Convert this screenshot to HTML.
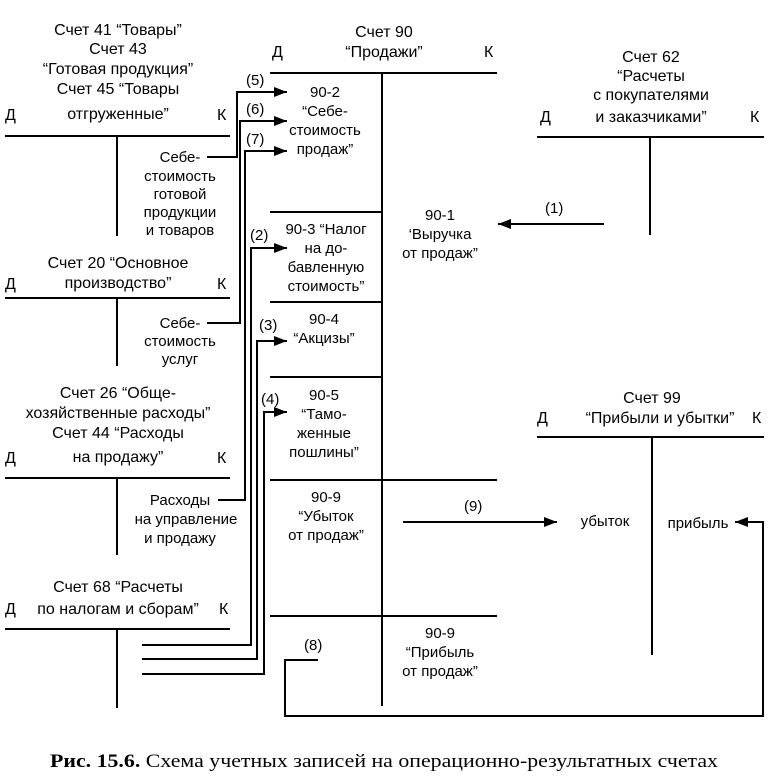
<!DOCTYPE html>
<html><head><meta charset="utf-8"><style>
html,body{margin:0;padding:0;background:#fff;}
svg{display:block;}
text{font-family:"Liberation Sans",sans-serif;font-size:16px;fill:#000;}
.s{font-size:15px;}
.c{font-family:"Liberation Serif",serif;font-size:19px;}
</style></head><body>
<svg width="777" height="778" viewBox="0 0 777 778" xmlns="http://www.w3.org/2000/svg">
<defs><marker id="a" markerWidth="13" markerHeight="10" refX="13" refY="5" orient="auto" markerUnits="userSpaceOnUse"><path d="M0,0 L13,5 L0,10 Z" fill="#000"/></marker></defs>
<g stroke="#000" stroke-width="2" fill="none">
<line x1="5" y1="136" x2="230" y2="136"/><line x1="117" y1="136" x2="117" y2="236"/>
<line x1="5" y1="298" x2="230" y2="298"/><line x1="117" y1="298" x2="117" y2="366"/>
<line x1="5" y1="478" x2="230" y2="478"/><line x1="117" y1="478" x2="117" y2="555"/>
<line x1="5" y1="629" x2="230" y2="629"/><line x1="117" y1="629" x2="117" y2="708"/>
<line x1="270" y1="73" x2="497" y2="73"/><line x1="382" y1="73" x2="382" y2="706"/>
<line x1="270" y1="212" x2="382" y2="212"/>
<line x1="270" y1="302" x2="382" y2="302"/>
<line x1="270" y1="377" x2="382" y2="377"/>
<line x1="270" y1="480" x2="497" y2="480"/>
<line x1="270" y1="616" x2="497" y2="616"/>
<line x1="537" y1="137" x2="764" y2="137"/><line x1="650" y1="137" x2="650" y2="235"/>
<line x1="537" y1="437" x2="764" y2="437"/><line x1="652" y1="437" x2="652" y2="655"/>
<polyline points="207,157 237,157 237,92 287,92" marker-end="url(#a)"/>
<polyline points="207,323 240,323 240,121 287,121" marker-end="url(#a)"/>
<polyline points="218,500 245,500 245,151 287,151" marker-end="url(#a)"/>
<polyline points="142,645 251,645 251,248 287,248" marker-end="url(#a)"/>
<polyline points="142,659 257,659 257,341 287,341" marker-end="url(#a)"/>
<polyline points="142,674 264,674 264,412 287,412" marker-end="url(#a)"/>
<line x1="604" y1="224" x2="498" y2="224" marker-end="url(#a)"/>
<line x1="403" y1="522" x2="557" y2="522" marker-end="url(#a)"/>
<polyline points="318,660 285,660 285,716 763,716 763,522 735,522" marker-end="url(#a)"/>
</g>
<g text-anchor="middle">
<text x="118" y="35">Счет 41 “Товары”</text>
<text x="118" y="54">Счет 43</text>
<text x="118" y="74">“Готовая продукция”</text>
<text x="118" y="94">Счет 45 “Товары</text>
<text x="118" y="119">отгруженные”</text>
<text x="180" y="162" class="s">Себе-</text>
<text x="180" y="181" class="s">стоимость</text>
<text x="180" y="199" class="s">готовой</text>
<text x="180" y="217" class="s">продукции</text>
<text x="180" y="235" class="s">и товаров</text>
<text x="118" y="268">Счет 20 “Основное</text>
<text x="118" y="288">производство”</text>
<text x="180" y="328" class="s">Себе-</text>
<text x="180" y="346" class="s">стоимость</text>
<text x="180" y="364" class="s">услуг</text>
<text x="118" y="398">Счет 26 “Обще-</text>
<text x="118" y="418">хозяйственные расходы”</text>
<text x="118" y="438">Счет 44 “Расходы</text>
<text x="118" y="462">на продажу”</text>
<text x="180" y="505" class="s">Расходы</text>
<text x="186" y="524" class="s">на управление</text>
<text x="180" y="543" class="s">и продажу</text>
<text x="118" y="592">Счет 68 “Расчеты</text>
<text x="118" y="614">по налогам и сборам”</text>
<text x="384" y="37">Счет 90</text>
<text x="384" y="57">“Продажи”</text>
<text x="325" y="97" class="s">90-2</text>
<text x="325" y="116" class="s">“Себе-</text>
<text x="325" y="135" class="s">стоимость</text>
<text x="325" y="154" class="s">продаж”</text>
<text x="326" y="234" class="s">90-3 “Налог</text>
<text x="326" y="253" class="s">на до-</text>
<text x="326" y="272" class="s">бавленную</text>
<text x="326" y="291" class="s">стоимость”</text>
<text x="324" y="324" class="s">90-4</text>
<text x="324" y="343" class="s">“Акцизы”</text>
<text x="324" y="400" class="s">90-5</text>
<text x="324" y="419" class="s">“Тамо-</text>
<text x="324" y="438" class="s">женные</text>
<text x="324" y="457" class="s">пошлины”</text>
<text x="326" y="502" class="s">90-9</text>
<text x="326" y="521" class="s">“Убыток</text>
<text x="326" y="540" class="s">от продаж”</text>
<text x="440" y="220" class="s">90-1</text>
<text x="440" y="239" class="s">‘Выручка</text>
<text x="440" y="258" class="s">от продаж”</text>
<text x="440" y="638" class="s">90-9</text>
<text x="440" y="657" class="s">“Прибыль</text>
<text x="440" y="676" class="s">от продаж”</text>
<text x="651" y="62">Счет 62</text>
<text x="651" y="81">“Расчеты</text>
<text x="651" y="100">с покупателями</text>
<text x="651" y="122">и заказчиками”</text>
<text x="652" y="403">Счет 99</text>
<text x="660" y="423">“Прибыли и убытки”</text>
<text x="605" y="526" class="s">убыток</text>
<text x="698" y="528" class="s">прибыль</text>
</g>
<g>
<text x="5" y="120">Д</text><text x="217" y="120">К</text>
<text x="5" y="289">Д</text><text x="217" y="289">К</text>
<text x="5" y="463">Д</text><text x="217" y="463">К</text>
<text x="5" y="614">Д</text><text x="219" y="614">К</text>
<text x="272" y="57">Д</text><text x="484" y="57">К</text>
<text x="540" y="122">Д</text><text x="750" y="122">К</text>
<text x="537" y="423">Д</text><text x="752" y="423">К</text>
<text x="246" y="85" class="s">(5)</text>
<text x="246" y="114" class="s">(6)</text>
<text x="246" y="144" class="s">(7)</text>
<text x="250" y="240" class="s">(2)</text>
<text x="259" y="330" class="s">(3)</text>
<text x="261" y="404" class="s">(4)</text>
<text x="545" y="213" class="s">(1)</text>
<text x="464" y="511" class="s">(9)</text>
<text x="304" y="650" class="s">(8)</text>
<text x="50" y="767" class="c" textLength="668" lengthAdjust="spacingAndGlyphs"><tspan font-weight="bold">Рис. 15.6.</tspan> Схема учетных записей на операционно-результатных счетах</text>
</g>
</svg>
</body></html>
